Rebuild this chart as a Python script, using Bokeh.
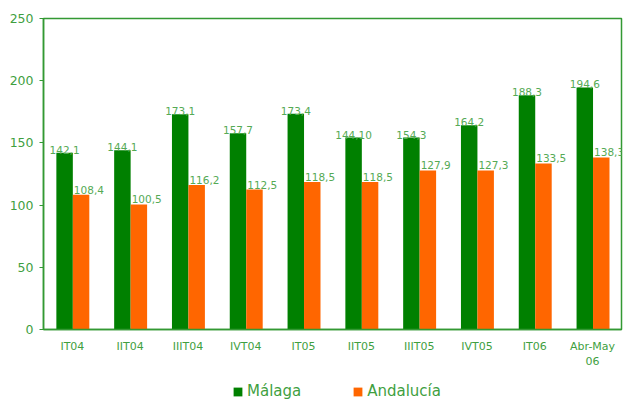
from bokeh.plotting import figure
from bokeh.layouts import column
from bokeh.models import ColumnDataSource, FactorRange, Range1d, FixedTicker, Legend, LegendItem
from bokeh.transform import dodge
from bokeh.core.properties import value
from bokeh.embed import file_html
from bokeh.resources import INLINE

categories = ["IT04", "IIT04", "IIIT04", "IVT04", "IT05", "IIT05", "IIIT05", "IVT05", "IT06", "Abr-May\n06"]
malaga = [142.1, 144.1, 173.1, 157.7, 173.4, 154.3, 154.3, 164.2, 188.3, 194.6]
andalucia = [108.4, 100.5, 116.2, 112.5, 118.5, 118.5, 127.9, 127.9, 133.5, 138.3]
malaga_labels = ["142,1", "144,1", "173,1", "157,7", "173,4", "144,10", "154,3", "164,2", "188,3", "194,6"]
andalucia_labels = ["108,4", "100,5", "116,2", "112,5", "118,5", "118,5", "127,9", "127,3", "133,5", "138,3"]
series_names = ["Málaga", "Andalucía"]
y_ticks = [0, 50, 100, 150, 200, 250]

FONT = "DejaVu Sans"
GREEN = "#008000"
ORANGE = "#FF6600"
AXIS_GREEN = "#339933"
TEXT_GREEN = "#3f9f3f"
LABEL_GREEN = "#55aa55"

src = ColumnDataSource(dict(cat=categories, malaga=malaga, andalucia=andalucia,
                            mlab=malaga_labels, alab=andalucia_labels))

p = figure(x_range=FactorRange(*categories), y_range=Range1d(0, 250),
           width=623, height=372, output_backend="svg", toolbar_location=None,
           min_border_left=43, min_border_right=2, min_border_top=18, min_border_bottom=43)

r1 = p.vbar(x=dodge("cat", -0.135, range=p.x_range), top="malaga", width=0.285,
            source=src, fill_color=GREEN, line_color=None)
r2 = p.vbar(x=dodge("cat", 0.15, range=p.x_range), top="andalucia", width=0.285,
            source=src, fill_color=ORANGE, line_color=None)

p.text(x=dodge("cat", -0.135, range=p.x_range), y="malaga", text="mlab", source=src,
       text_font=value(FONT), text_font_size="10.5px", text_color=LABEL_GREEN,
       text_align="center", text_baseline="alphabetic", y_offset=-3)
p.text(x=dodge("cat", 0.285, range=p.x_range), y="andalucia", text="alab", source=src,
       text_font=value(FONT), text_font_size="10.5px", text_color=LABEL_GREEN,
       text_align="center", text_baseline="alphabetic", y_offset=-5)

p.xgrid.visible = False
p.ygrid.visible = False
p.outline_line_color = AXIS_GREEN
p.outline_line_width = 1.5
p.x_range.range_padding = 0
p.x_range.group_padding = 0

p.yaxis.ticker = FixedTicker(ticks=y_ticks)
p.yaxis.minor_tick_line_color = None
p.yaxis.major_tick_in = 0
p.yaxis.major_tick_out = 4
p.yaxis.major_label_standoff = 6
p.yaxis.axis_line_color = AXIS_GREEN
p.yaxis.axis_line_width = 1.5
p.yaxis.major_tick_line_color = AXIS_GREEN
p.yaxis.major_label_text_font = FONT
p.yaxis.major_label_text_font_size = "12.5px"
p.yaxis.major_label_text_color = TEXT_GREEN

p.xaxis.major_tick_in = 0
p.xaxis.major_tick_out = 0
p.xaxis.major_tick_line_color = None
p.xaxis.axis_line_color = AXIS_GREEN
p.xaxis.axis_line_width = 1.5
p.xaxis.major_label_standoff = 10
p.xaxis.major_label_text_font = FONT
p.xaxis.major_label_text_font_size = "11px"
p.xaxis.major_label_text_color = TEXT_GREEN

# legend strip below the chart (its bars lie outside its y range, only the legend shows)
q = figure(x_range=p.x_range, y_range=Range1d(1000, 1001), width=623, height=29,
           output_backend="svg", toolbar_location=None,
           x_axis_location=None, y_axis_location=None,
           min_border_left=0, min_border_right=0, min_border_top=0, min_border_bottom=0)
q.xgrid.visible = False
q.ygrid.visible = False
q.outline_line_color = None
q1 = q.vbar(x="cat", top="malaga", width=0.285, source=src, fill_color=GREEN, line_color=None)
q2 = q.vbar(x="cat", top="andalucia", width=0.285, source=src, fill_color=ORANGE, line_color=None)

legend = Legend(items=[LegendItem(label=series_names[0], renderers=[q1]),
                       LegendItem(label=series_names[1], renderers=[q2])],
                orientation="horizontal", location=(189, 1),
                padding=0, margin=0, spacing=51, label_standoff=4,
                glyph_width=11, glyph_height=11, label_height=11,
                label_text_font=FONT, label_text_font_size="15px",
                label_text_color=TEXT_GREEN, border_line_color=None,
                background_fill_alpha=0)
q.add_layout(legend, "center")

layout = column(p, q, spacing=0)
open("out.html", "w").write(file_html(layout, INLINE))
